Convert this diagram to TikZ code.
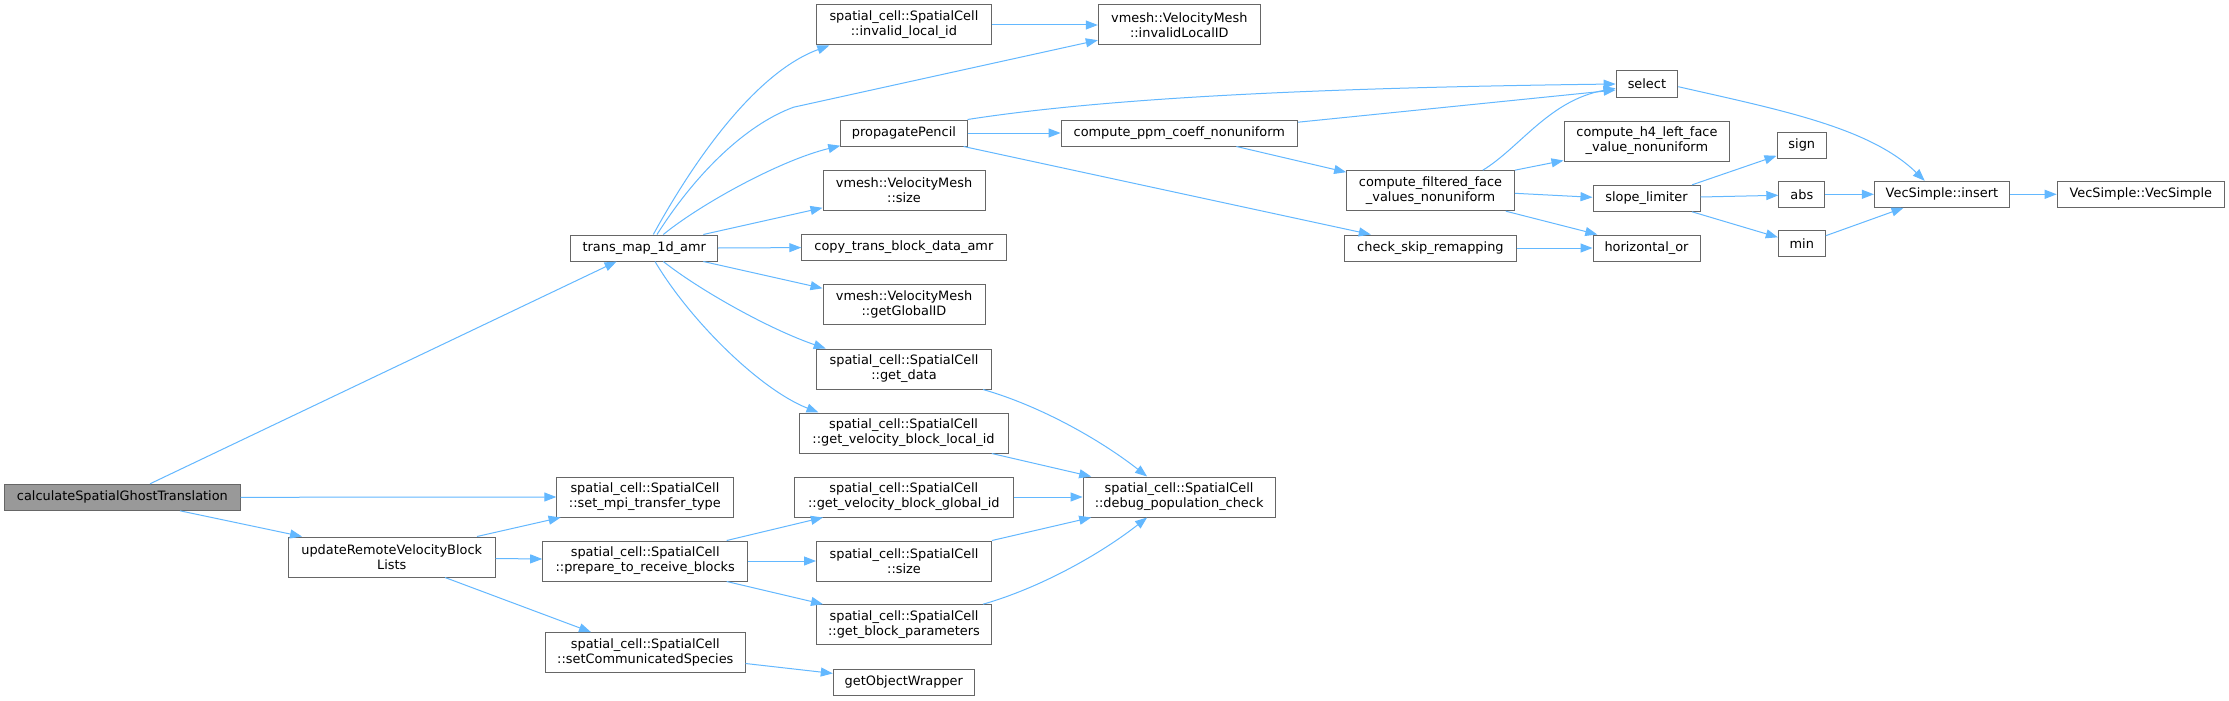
\documentclass[tikz,border=0pt]{standalone}
\usepackage{fontspec}
\setmainfont{DejaVu Sans}
\usetikzlibrary{arrows.meta,calc}
\definecolor{edgeblue}{HTML}{63B8FF}
\definecolor{bordergray}{HTML}{666666}
\definecolor{rootfill}{HTML}{999999}
\begin{document}
\begin{tikzpicture}[x=1pt,y=-1pt,
  fn/.style={draw=bordergray, line width=1pt, fill=white, inner sep=0pt, align=center,
    font=\fontsize{12.9}{15}\selectfont, text=black},
  one/.style={fn, minimum height=26pt},
  two/.style={fn, minimum height=40pt},
  conn/.style={draw=edgeblue, line width=1pt, -{Triangle[length=12pt,width=9pt]}}]
\useasboundingbox (0,0) rectangle (2229,701);
\fill[white] (0,0) rectangle (2229,701);

% rank 1
\node[one, fill=rootfill, minimum width=235.3pt] (root) at (122.4,497.3) {calculateSpatialGhostTranslation};
% rank 2
\node[two, minimum width=206.7pt] (urv) at (391.7,557) {updateRemoteVelocityBlock\\Lists};
% rank 3
\node[one, minimum width=146.7pt] (tm) at (644.3,248) {trans\_map\_1d\_amr};
\node[two, minimum width=176.2pt] (smpi) at (644.9,497) {spatial\_cell::SpatialCell\\::set\_mpi\_transfer\_type};
\node[two, minimum width=205pt] (prep) at (645.2,561) {spatial\_cell::SpatialCell\\::prepare\_to\_receive\_blocks};
\node[two, minimum width=199.4pt] (scs) at (645.3,652.6) {spatial\_cell::SpatialCell\\::setCommunicatedSpecies};
% rank 4
\node[two, minimum width=175pt] (ilid) at (903.9,25) {spatial\_cell::SpatialCell\\::invalid\_local\_id};
\node[one, minimum width=126.3pt] (pp) at (903.9,133) {propagatePencil};
\node[two, minimum width=162pt] (vsz) at (904,190) {vmesh::VelocityMesh\\::size};
\node[one, minimum width=204.2pt] (ctb) at (903.9,247.6) {copy\_trans\_block\_data\_amr};
\node[two, minimum width=162pt] (ggid) at (904,304.7) {vmesh::VelocityMesh\\::getGlobalID};
\node[two, minimum width=175pt] (gd) at (904,369) {spatial\_cell::SpatialCell\\::get\_data};
\node[two, minimum width=209pt] (gvl) at (903.5,433) {spatial\_cell::SpatialCell\\::get\_velocity\_block\_local\_id};
\node[two, minimum width=219pt] (gvg) at (903.8,497) {spatial\_cell::SpatialCell\\::get\_velocity\_block\_global\_id};
\node[two, minimum width=175pt] (sps) at (904,561) {spatial\_cell::SpatialCell\\::size};
\node[two, minimum width=175pt] (gbp) at (904,624.7) {spatial\_cell::SpatialCell\\::get\_block\_parameters};
\node[one, minimum width=141pt] (gow) at (903.8,682) {getObjectWrapper};
% rank 5
\node[two, minimum width=162pt] (ilID) at (1179.3,25) {vmesh::VelocityMesh\\::invalidLocalID};
\node[one, minimum width=236.5pt] (cppm) at (1179.3,133) {compute\_ppm\_coeff\_nonuniform};
\node[two, minimum width=192pt] (dbg) at (1179.1,497) {spatial\_cell::SpatialCell\\::debug\_population\_check};
% rank 6
\node[two, minimum width=167.7pt] (cf) at (1430.5,190.7) {compute\_filtered\_face\\\_values\_nonuniform};
\node[one, minimum width=171.2pt] (cs) at (1430.4,248) {check\_skip\_remapping};
% rank 7
\node[one, minimum width=61.7pt] (sel) at (1646.9,84) {select};
\node[two, minimum width=165.8pt] (h4) at (1646.9,141) {compute\_h4\_left\_face\\\_value\_nonuniform};
\node[one, minimum width=107pt] (sl) at (1646.5,198.3) {slope\_limiter};
\node[one, minimum width=107pt] (hor) at (1646.5,248) {horizontal\_or};
% rank 8
\node[one, minimum width=49.6pt] (sign) at (1801.8,145.3) {sign};
\node[one, minimum width=46pt] (abs) at (1801.8,194.3) {abs};
\node[one, minimum width=47pt] (min) at (1801.8,243.7) {min};
% rank 9, 10
\node[one, minimum width=135pt] (ins) at (1941.9,194.3) {VecSimple::insert};
\node[one, minimum width=167.2pt] (vs) at (2140.8,194.3) {VecSimple::VecSimple};

\coordinate (k12) at (793.6,107.2);

% edges
\draw[conn] ($(root.north)+(27.6,0)$) -- ($(tm.south)+(-27.7,0)$);
\draw[conn] (root.east) -- (smpi.west);
\draw[conn] ($(root.south)+(57.6,0)$) -- ($(urv.north)+(-89.7,0)$);
\draw[conn] ($(urv.north)+(85.3,0)$) -- ($(smpi.south)+(-84.3,0)$);
\draw[conn] ($(urv.east)+(0,1.5)$) -- ($(prep.west)+(0,-2)$);
\draw[conn] ($(urv.south)+(53.3,0)$) -- ($(scs.north)+(-54.3,0)$);
\draw[conn] ($(prep.north)+(81.5,0)$) -- ($(gvg.south)+(-80.9,0)$);
\draw[conn] (prep.east) -- (sps.west);
\draw[conn] ($(prep.south)+(81.5,0)$) -- ($(gbp.north)+(-81,0)$);
\draw[conn] ($(scs.east)+(0,10.9)$) -- ($(gow.west)+(0,-8.6)$);

\draw[conn] ($(tm.north)+(9,0)$) .. controls +(46.7,-85) and +(-69.3,25.3) .. ($(ilid.south)+(-74.6,0)$);
\draw[conn] ($(tm.north)+(12.7,0)$) .. controls +(38,-60) and +(-48.6,17.8) .. (k12) -- ($(ilID.west)+(0,15.2)$);
\draw[conn] ($(tm.north)+(19,0)$) .. controls +(36.7,-30) and +(-60.7,14.8) .. ($(pp.south west)+(0,-0.8)$);
\draw[conn] ($(tm.north)+(59,0)$) -- ($(vsz.west)+(0,17.8)$);
\draw[conn] (tm.east) -- (ctb.west);
\draw[conn] ($(tm.south)+(59,0)$) -- ($(ggid.west)+(0,-16.4)$);
\draw[conn] ($(tm.south)+(19,0)$) .. controls +(36.7,29) and +(-55.7,-19) .. ($(gd.north)+(-78.3,0)$);
\draw[conn] ($(tm.south)+(10.7,0)$) .. controls +(35,59) and +(-58.6,-23) .. ($(gvl.north)+(-85,0)$);

\draw[conn] (ilid.east) -- (ilID.west);

\draw[conn] (pp.north east) .. controls +(132.9,-20.6) and +(-316,4) .. (sel.west);
\draw[conn] (pp.east) -- (cppm.west);
\draw[conn] ($(pp.south east)+(-4,0)$) -- ($(cs.north)+(-59.6,0)$);
\draw[conn] ($(cppm.north east)+(0,2.7)$) -- ($(sel.west)+(0,6)$);
\draw[conn] ($(cppm.south)+(57.1,0)$) -- ($(cf.north west)+(0,2)$);
\draw[conn] ($(cf.north)+(52.3,0)$) .. controls +(37.2,-22.7) and +(-66,11.7) .. ($(sel.west)+(0,4.3)$);
\draw[conn] (cf.north east) -- ($(h4.south west)+(0,-1)$);
\draw[conn] ($(cf.east)+(0,2.6)$) -- ($(sl.west)+(0,-1)$);
\draw[conn] ($(cf.south east)+(-9,0)$) -- ($(hor.north west)+(4.8,0)$);
\draw[conn] (cs.east) -- (hor.west);
\draw[conn] ($(sl.north east)+(-8.4,0)$) -- ($(sign.south west)+(0,-3)$);
\draw[conn] ($(sl.east)+(0,-1.3)$) -- ($(abs.west)+(0,1)$);
\draw[conn] ($(sl.south east)+(-8.4,0)$) -- ($(min.west)+(0,-6.4)$);
\draw[conn] ($(sel.east)+(0,2.7)$) .. controls +(102.3,23.3) and +(-54.7,-53.3) .. ($(ins.north)+(-17.2,0)$);
\draw[conn] (abs.east) -- (ins.west);
\draw[conn] ($(min.east)+(0,-8)$) -- ($(ins.south)+(-38.4,0)$);
\draw[conn] (ins.east) -- (vs.west);

\draw[conn] ($(gd.south)+(79,0)$) .. controls +(57.1,16.3) and +(-47,-36.8) .. ($(dbg.north)+(-32,0)$);
\draw[conn] ($(gvl.south)+(88.3,0)$) -- ($(dbg.north west)+(8.6,0)$);
\draw[conn] (gvg.east) -- (dbg.west);
\draw[conn] ($(sps.north)+(88,0)$) -- ($(dbg.south west)+(8.6,0)$);
\draw[conn] ($(gbp.north)+(79,0)$) .. controls +(57.1,-16.3) and +(-47,36.8) .. ($(dbg.south)+(-32,0)$);
\end{tikzpicture}
\end{document}
